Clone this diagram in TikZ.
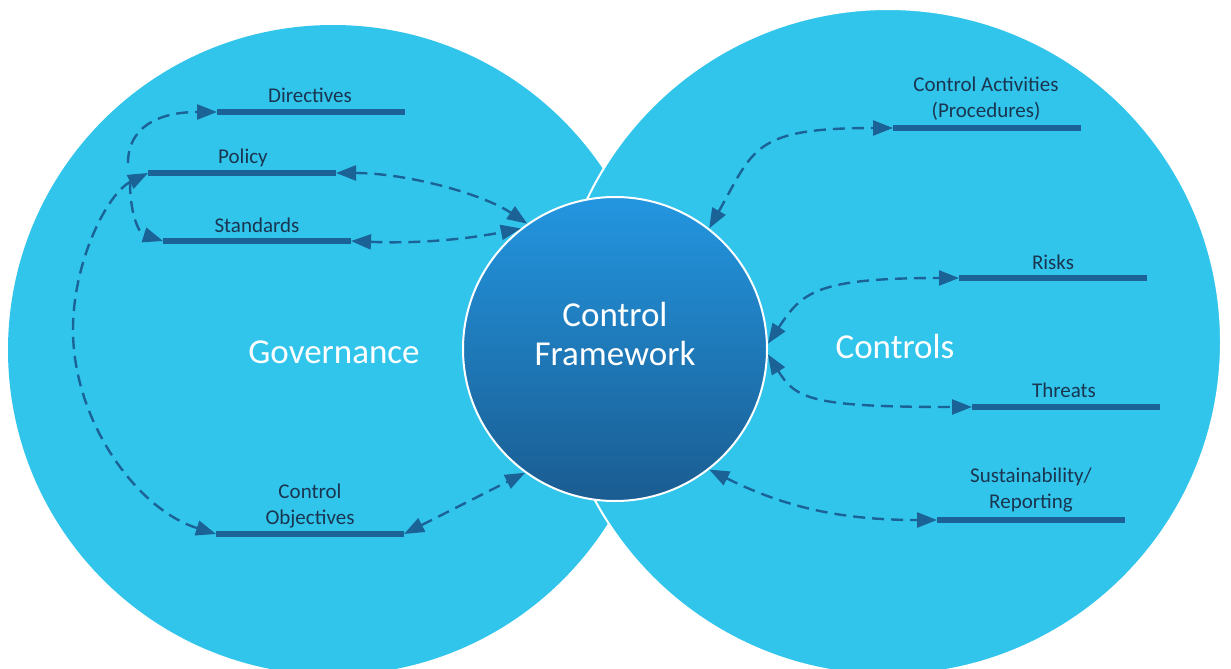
\documentclass[tikz,border=0pt]{standalone}
\usepackage{fontspec}
\setmainfont{Carlito}
\usetikzlibrary{arrows.meta}
\definecolor{skyblue}{HTML}{31C5EC}
\definecolor{barblue}{HTML}{1B6296}
\definecolor{inkblue}{HTML}{1A3550}
\definecolor{fwtop}{HTML}{2396E0}
\definecolor{fwbottom}{HTML}{1A5C91}

\begin{document}
\begin{tikzpicture}[x=1pt, y=1pt,
    bar/.style={barblue, line width=6pt},
    link/.style={barblue, line width=2.4pt, dash pattern=on 12pt off 7pt,
      >={Triangle[length=20pt, width=15pt]}},
    lbl/.style={text=inkblue, align=center, inner sep=0pt,
      font=\fontsize{21}{26}\selectfont},
    big/.style={text=white, align=center, inner sep=0pt,
      font=\fontsize{35}{39}\selectfont}]
    \useasboundingbox (0,0) rectangle (1231,-669);
    \fill[white] (0,0) rectangle (1231,-669);

    \fill[skyblue] (333,-350) circle (325pt);
    \filldraw[skyblue, draw=white, line width=2pt] (888,-342) circle (333pt);
    \node[circle, minimum size=304pt, inner sep=0pt, top color=fwtop,
      bottom color=fwbottom, draw=white, line width=2pt] (fw) at (615,-349) {};
    \node[big] (fwtext) at (615,-334) {Control\\Framework};
    \node[big] (gov) at (334,-352) {Governance};
    \node[big] (ctl) at (895,-346) {Controls};

    \foreach \n/\x/\y in {dir/217/112, pol/148/173, std/163/241, co/216/534,
                          ca/893/128, rk/959/278, th/972/407, su/937/520}{
      \coordinate (\n L) at (\x,-\y);
      \coordinate (\n R) at (\x+188,-\y);
      \draw[bar] (\n L) -- (\n R);
    }

    \node[lbl] (dirT) at (310,-95) {Directives};
    \node[lbl] (polT) at (243,-158) {Policy};
    \node[lbl] (stdT) at (257,-225) {Standards};
    \node[lbl] (coT) at (310,-506) {Control\\Objectives};
    \node[lbl] (caT) at (986,-99) {Control Activities\\(Procedures)};
    \node[lbl] (rkT) at (1053,-262) {Risks};
    \node[lbl] (thT) at (1064,-390) {Threats};
    \node[lbl] (suT) at (1031,-490) {Sustainability/\\Reporting};

    \coordinate (hubT) at (128,-163);
    \coordinate (hubB) at (130,-182);
    \coordinate (bend) at (73,-330);

    \draw[link, ->] (hubT) .. controls +(0,35) and +(-60,0) .. (dirL);
    \draw[link, ->] (hubB) .. controls +(0,-30) and +(-25,8) .. (stdL);
    \draw[link, <->] (polL) .. controls +(-40,-20) and +(0,70) .. (bend)
                            .. controls +(0,-90) and +(-80,25) .. (coL);
    \draw[link, <->] (polR) .. controls +(70,0) and +(-45,30) .. (fw.125);
    \draw[link, <->] (stdR) .. controls +(70,-3) and +(-50,-10) .. (fw.128);
    \draw[link, <->] (coR) -- (fw.234);
    \draw[link, <->] (fw.52) .. controls +(45,80) and +(-140,0) .. (caL);
    \draw[link, <->] (fw.2) .. controls +(34,51) and +(-144,0) .. (rkL);
    \draw[link, <->] (fw.-2) .. controls +(28,-45) and +(-160,0) .. (thL);
    \draw[link, <->] (fw.-52) .. controls +(80,-40) and +(-90,0) .. (suL);
\end{tikzpicture}
\end{document}
